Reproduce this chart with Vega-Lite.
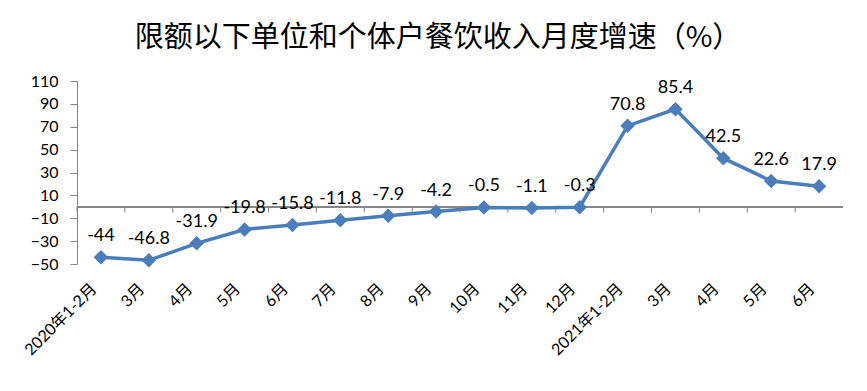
{
  "$schema": "https://vega.github.io/schema/vega-lite/v6.json",
  "width": 766,
  "height": 183,
  "autosize": {"type": "none"},
  "padding": {"left": 77, "top": 81, "right": 24, "bottom": 127},
  "background": "white",
  "config": {"view": {"stroke": null}},
  "title": {
    "text": "限额以下单位和个体户餐饮收入月度增速（%）",
    "font": "Noto Sans CJK SC",
    "fontSize": 29,
    "fontWeight": "normal",
    "color": "black",
    "anchor": "middle",
    "frame": "group",
    "baseline": "bottom",
    "dx": -22,
    "dy": 27,
    "offset": 18
  },
  "data": {
    "values": [
      {"period": "2020年1-2月", "value": -44},
      {"period": "2020年3月", "value": -46.8},
      {"period": "2020年4月", "value": -31.9},
      {"period": "2020年5月", "value": -19.8},
      {"period": "2020年6月", "value": -15.8},
      {"period": "2020年7月", "value": -11.8},
      {"period": "2020年8月", "value": -7.9},
      {"period": "2020年9月", "value": -4.2},
      {"period": "2020年10月", "value": -0.5},
      {"period": "2020年11月", "value": -1.1},
      {"period": "2020年12月", "value": -0.3},
      {"period": "2021年1-2月", "value": 70.8},
      {"period": "2021年3月", "value": 85.4},
      {"period": "2021年4月", "value": 42.5},
      {"period": "2021年5月", "value": 22.6},
      {"period": "2021年6月", "value": 17.9}
    ]
  },
  "encoding": {
    "y": {
      "field": "value",
      "type": "quantitative",
      "scale": {"domain": [-50, 110], "nice": false, "zero": false},
      "axis": {
        "title": null,
        "values": [-50, -30, -10, 10, 30, 50, 70, 90, 110],
        "grid": false,
        "domainColor": "#868686",
        "tickColor": "#868686",
        "tickSize": 7,
        "labelPadding": 12,
        "labelFont": "Lato",
        "labelFontSize": 16,
        "labelColor": "black"
      }
    }
  },
  "layer": [
    {
      "mark": {"type": "rule", "color": "#868686", "strokeWidth": 1},
      "encoding": {
        "y": {"datum": 0}
      }
    },
    {
      "mark": {"type": "rule", "color": "#868686", "strokeWidth": 1},
      "encoding": {
        "x": {"field": "period", "type": "nominal", "sort": null, "bandPosition": 0},
        "y": {"datum": 0},
        "y2": {"datum": -5}
      }
    },
    {
      "mark": {
        "type": "line",
        "color": "#4A7EBB",
        "strokeWidth": 3.5,
        "point": {"shape": "diamond", "size": 210, "filled": true, "color": "#4A7EBB", "opacity": 1}
      },
      "encoding": {
        "x": {
          "field": "period",
          "type": "nominal",
          "sort": null,
          "scale": {"type": "band", "paddingInner": 0, "paddingOuter": 0},
          "axis": {
            "title": null,
            "orient": "bottom",
            "domain": false,
            "ticks": false,
            "labelAngle": -45,
            "labelAlign": "right",
            "labelBaseline": "middle",
            "labelPadding": 22,
            "labelOffset": -7,
            "labelFont": "Lato, Noto Sans CJK SC",
            "labelFontSize": 16,
            "labelColor": "black",
            "labelExpr": "datum.value ? (substring(datum.value, 5, 8) == '1-2' ? datum.value : substring(datum.value, 5)) : ''"
          }
        }
      }
    },
    {
      "mark": {
        "type": "text",
        "font": "Lato",
        "fontSize": 18,
        "color": "black",
        "baseline": "bottom",
        "dy": -12
      },
      "encoding": {
        "x": {"field": "period", "type": "nominal", "sort": null},
        "text": {"field": "value", "type": "nominal"}
      }
    }
  ]
}
